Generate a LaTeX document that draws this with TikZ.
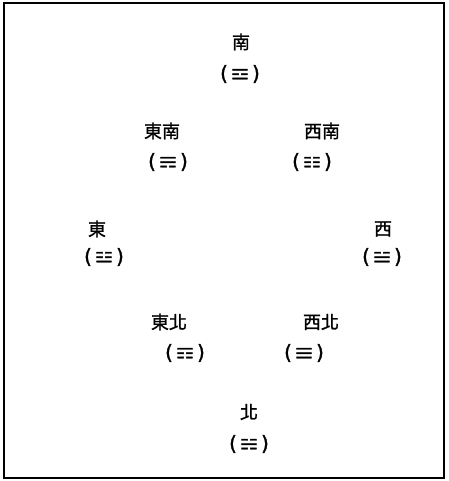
\documentclass[tikz,border=0pt]{standalone}
\usepackage{fontspec}
\usepackage{graphicx}
\newfontfamily\cjk[FakeBold=1.2]{Noto Sans CJK TC}
\newfontfamily\sym[FakeBold=1.5]{DejaVu Sans}
\newfontfamily\symb[FakeBold=2.5]{DejaVu Sans Bold}
\tikzset{
  dir/.style={font=\cjk\fontsize{18}{18}\selectfont, inner sep=0pt},
  gua/.style={font=\sym\fontsize{20}{20}\selectfont, inner sep=0pt},
}
\newcommand{\gu}[1]{(\kern3pt\raisebox{1pt}{\scalebox{1.45}[1]{\symb\fontsize{14}{14}\selectfont #1}}\kern3pt)}
\begin{document}
\begin{tikzpicture}[x=1pt,y=-1pt]
\useasboundingbox (0,0) rectangle (448,481);
\draw[line width=1.3pt] (4,3) rectangle (444,478);
\node[dir] (s) at (241,42) {南};
\node[gua] (sg) at (240,74) {\gu{☲}};
\node[dir] (se) at (162,131) {東南};
\node[gua] (seg) at (168,162) {\gu{☴}};
\node[dir] (sw) at (322,131) {西南};
\node[gua] (swg) at (312,162) {\gu{☷}};
\node[dir] (e) at (97,229) {東};
\node[gua] (eg) at (104,257) {\gu{☳}};
\node[dir] (w) at (383,229) {西};
\node[gua] (wg) at (382,257) {\gu{☱}};
\node[dir] (ne) at (169,322) {東北};
\node[gua] (neg) at (185,353) {\gu{☶}};
\node[dir] (nw) at (321,322) {西北};
\node[gua] (nwg) at (304,353) {\gu{☰}};
\node[dir] (n) at (249,412) {北};
\node[gua] (ng) at (249,444) {\gu{☵}};
\end{tikzpicture}
\end{document}
